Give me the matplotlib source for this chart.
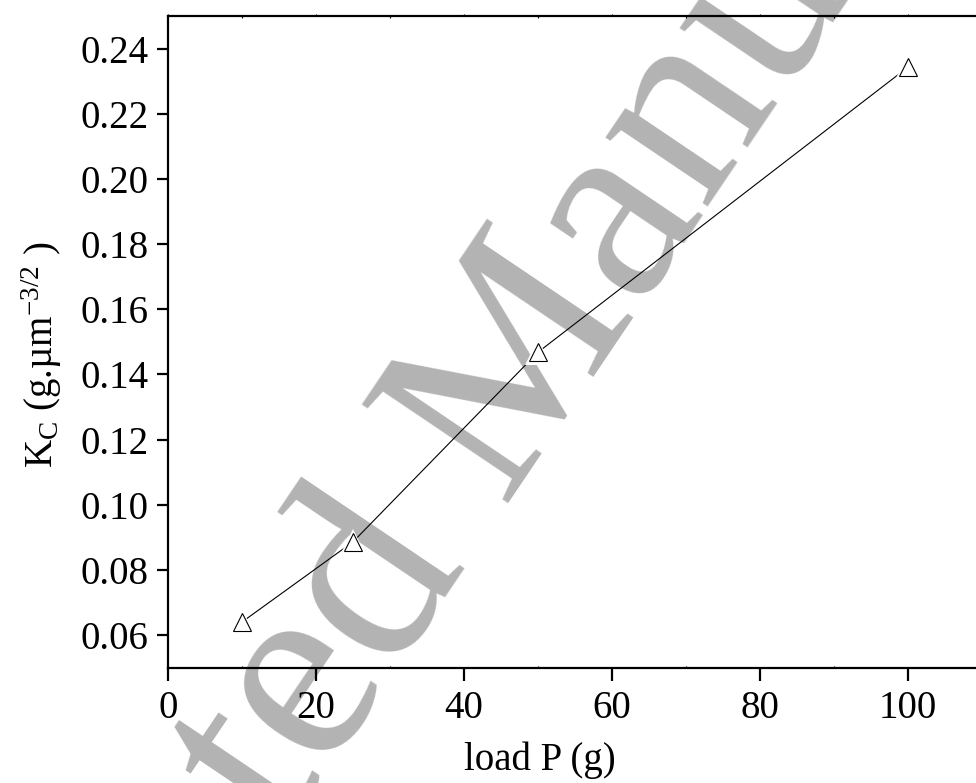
import matplotlib
matplotlib.use("Agg")
import matplotlib.pyplot as plt
from matplotlib.ticker import MultipleLocator

# data
load_g = [10, 25, 50, 100]
kc = [0.0640, 0.0886, 0.1468, 0.2343]

x_ticks = [0, 20, 40, 60, 80, 100]
y_ticks = [0.06, 0.08, 0.10, 0.12, 0.14, 0.16, 0.18, 0.20, 0.22, 0.24]

plt.rcParams['font.family'] = 'Liberation Serif'
plt.rcParams['mathtext.fontset'] = 'custom'
plt.rcParams['mathtext.rm'] = 'Liberation Serif'
plt.rcParams['mathtext.it'] = 'Liberation Serif:italic'

fig = plt.figure(figsize=(9.76, 7.83), dpi=100)
ax = fig.add_axes([0.1721, 0.1473, 0.834, 0.8323])
ax.set_zorder(1)
ax.patch.set_alpha(0)

# watermark behind the plot
fig.text(0.558, 0.425, "Accepted Manuscript", fontsize=194, color='#b3b3b3',
         rotation=56, rotation_mode='anchor', ha='center', va='baseline',
         zorder=-1)

ax.plot(load_g, kc, color='black', lw=0.8, zorder=2)
ax.plot(load_g, kc, ls='none', marker='^', ms=19, mfc='white', mec='white',
        mew=0, zorder=3)
ax.plot(load_g, kc, ls='none', marker='^', ms=12.5, mfc='none', mec='black',
        mew=0.8, zorder=4)

ax.set_xlim(0, 110)
ax.set_ylim(0.05, 0.25)
ax.set_xticks(x_ticks)
ax.set_yticks(y_ticks)
ax.set_xticklabels([str(v) for v in x_ticks])
ax.set_yticklabels([f"{v:.2f}" for v in y_ticks])
ax.xaxis.set_minor_locator(MultipleLocator(10))

for s in ax.spines.values():
    s.set_linewidth(1.6)

ax.tick_params(axis='y', which='major', direction='out', length=8,
               width=1.6, labelsize=28, pad=6)
ax.tick_params(axis='x', which='major', direction='out', length=9,
               width=1.6, labelsize=28, pad=7, top=True)
ax.tick_params(axis='x', which='minor', direction='in', length=1.5, width=0.8,
               top=True)
for t in ax.xaxis.get_major_ticks():
    t.tick2line.set_markersize(1.5)
    t.tick2line.set_markeredgewidth(0.8)

ax.set_xlabel("load P (g)", fontsize=28)
ax.set_ylabel(r"K$_\mathrm{C}$ (g.µm$^{-3/2}$ )", fontsize=28)
ax.xaxis.set_label_coords(0.457, -0.113)
ax.yaxis.set_label_coords(-0.128, 0.480)

fig.savefig("out.png", dpi=100)
